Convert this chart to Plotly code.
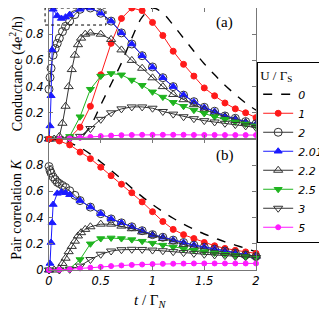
import plotly.graph_objects as go
from plotly.subplots import make_subplots

# ---------------- data ----------------
t10 = [0.0, 0.1, 0.2, 0.3, 0.4, 0.5, 0.6, 0.7, 0.8, 0.9, 1.0,
       1.1, 1.2, 1.3, 1.4, 1.5, 1.6, 1.7, 1.8, 1.9, 2.0]

# U = 0 (dashed)
g_u0 = [0, 0, 0, 0.01, 0.1, 0.26, 0.42, 0.58, 0.77, 0.93, 1.0,
        0.96, 0.87, 0.77, 0.67, 0.575, 0.49, 0.41, 0.34, 0.275, 0.22]
k_u0 = [1.0, 0.99, 0.97, 0.935, 0.885, 0.825, 0.76, 0.695, 0.625, 0.56, 0.5,
        0.445, 0.395, 0.35, 0.31, 0.275, 0.245, 0.215, 0.19, 0.165, 0.14]

# U = 1
g_u1 = [0, 0, 0.01, 0.09, 0.25, 0.49, 0.73, 0.92, 1.0, 0.98, 0.89,
        0.79, 0.67, 0.57, 0.48, 0.39, 0.33, 0.275, 0.23, 0.2, 0.163]
k_u1 = [1.0, 0.985, 0.955, 0.9, 0.85, 0.785, 0.72, 0.655, 0.59, 0.52, 0.445,
        0.37, 0.31, 0.27, 0.24, 0.21, 0.185, 0.165, 0.15, 0.138, 0.127]

# U = 2
t_u2 = [0, 0.01, 0.02, 0.04, 0.06, 0.08, 0.1, 0.13, 0.16, 0.2, 0.25,
        0.3, 0.4, 0.5, 0.6, 0.7, 0.8, 0.9, 1.0, 1.1, 1.2, 1.3, 1.4, 1.5,
        1.6, 1.7, 1.8, 1.9, 2.0]
g_u2 = [0.38, 0.47, 0.54, 0.64, 0.69, 0.73, 0.77, 0.82, 0.86, 0.9, 0.95,
        0.99, 1.0, 0.96, 0.9, 0.81, 0.725, 0.636, 0.55, 0.468, 0.4, 0.335,
        0.285, 0.242, 0.212, 0.176, 0.158, 0.133, 0.116]
k_u2 = [0.79, 0.76, 0.74, 0.71, 0.69, 0.67, 0.66, 0.645, 0.63, 0.605, 0.57,
        0.53, 0.48, 0.43, 0.39, 0.36, 0.33, 0.3, 0.27, 0.25, 0.228, 0.21,
        0.19, 0.175, 0.16, 0.145, 0.13, 0.115, 0.103]

# U = 2.01
t_u201 = [0, 0.01, 0.02, 0.03, 0.04, 0.08, 0.12, 0.16, 0.2,
          0.3, 0.4, 0.5, 0.6, 0.7, 0.8, 0.9, 1.0, 1.1, 1.2, 1.3, 1.4, 1.5,
          1.6, 1.7, 1.8, 1.9, 2.0]
g_u201 = [0, 0.1, 0.33, 0.68, 0.99, 0.94, 0.92, 0.93, 0.95,
          0.99, 1.0, 0.96, 0.9, 0.81, 0.725, 0.636, 0.548, 0.467, 0.4, 0.335,
          0.283, 0.24, 0.21, 0.175, 0.155, 0.13, 0.114]
k_u201 = [0, 0.05, 0.21, 0.36, 0.5, 0.585, 0.595, 0.59, 0.575,
          0.53, 0.48, 0.43, 0.39, 0.36, 0.33, 0.3, 0.27, 0.25, 0.228, 0.21,
          0.19, 0.175, 0.16, 0.145, 0.13, 0.115, 0.103]

# U = 2.2
t_u22 = [0, 0.05, 0.1, 0.13, 0.16, 0.19, 0.22, 0.25, 0.28, 0.31, 0.35,
         0.4, 0.5, 0.6, 0.7, 0.8, 0.9, 1.0, 1.1, 1.2, 1.3, 1.4, 1.5,
         1.6, 1.7, 1.8, 1.9, 2.0]
g_u22 = [0, 0, 0.02, 0.12, 0.25, 0.4, 0.53, 0.64, 0.72, 0.77, 0.8,
         0.81, 0.8, 0.76, 0.68, 0.6, 0.54, 0.467, 0.4, 0.34, 0.3, 0.262,
         0.225, 0.198, 0.17, 0.15, 0.125, 0.106]
k_u22 = [0, 0, 0.01, 0.05, 0.09, 0.14, 0.18, 0.22, 0.26, 0.285, 0.31,
         0.33, 0.35, 0.35, 0.335, 0.315, 0.29, 0.265, 0.24, 0.215, 0.195,
         0.175, 0.16, 0.145, 0.135, 0.125, 0.115, 0.106]

# U = 2.5
g_u25 = [0, 0, 0.02, 0.17, 0.38, 0.48, 0.5, 0.49, 0.45, 0.41, 0.36,
         0.32, 0.28, 0.25, 0.22, 0.195, 0.17, 0.15, 0.13, 0.115, 0.1]
k_u25 = [0, 0, 0.01, 0.08, 0.2, 0.24, 0.245, 0.24, 0.232, 0.22, 0.205,
         0.19, 0.175, 0.16, 0.15, 0.14, 0.13, 0.12, 0.11, 0.103, 0.096]

# U = 3
g_u3 = [0, 0, 0, 0.02, 0.08, 0.15, 0.2, 0.23, 0.245, 0.245, 0.235,
        0.21, 0.19, 0.17, 0.155, 0.14, 0.13, 0.12, 0.11, 0.1, 0.088]
k_u3 = [0, 0, 0.005, 0.03, 0.08, 0.12, 0.145, 0.155, 0.158, 0.157, 0.152,
        0.147, 0.14, 0.133, 0.127, 0.12, 0.115, 0.11, 0.105, 0.1, 0.095]

# U = 5
g_u5 = [0, 0.002, 0.005, 0.01, 0.016, 0.022, 0.026, 0.029, 0.031, 0.032, 0.032,
        0.032, 0.032, 0.032, 0.031, 0.031, 0.031, 0.03, 0.03, 0.03, 0.03]
k_u5 = [0, 0.002, 0.006, 0.012, 0.018, 0.024, 0.03, 0.035, 0.039, 0.042, 0.045,
        0.047, 0.048, 0.049, 0.05, 0.05, 0.05, 0.05, 0.05, 0.05, 0.05]

labels = ["0", "1", "2", "2.01", "2.2", "2.5", "3", "5"]
x_ticks = [0, 0.5, 1, 1.5, 2]
x_ticktext = ["0", "0.5", "1", "1.5", "2"]
g_ticks = [0, 0.2, 0.4, 0.6, 0.8, 1]
g_ticktext = ["0", "0.2", "0.4", "0.6", "0.8", "1"]
k_ticks = [0, 0.2, 0.4, 0.6, 0.8]
k_ticktext = ["0", "0.2", "0.4", "0.6", "0.8"]

# ---------------- styles ----------------
series = [
    (labels[0], t10, g_u0, k_u0, "black", None, 0, None),
    (labels[1], t10, g_u1, k_u1, "#ff1a1a", "circle", 6, "#ff1a1a"),
    (labels[2], t_u2, g_u2, k_u2, "#333333", "circle-open", 8, "#333333"),
    (labels[3], t_u201, g_u201, k_u201, "#1a1aff", "triangle-up", 7, "#1a1aff"),
    (labels[4], t_u22, g_u22, k_u22, "#333333", "triangle-up-open", 8, "#333333"),
    (labels[5], t10, g_u25, k_u25, "#1fb41f", "triangle-down", 7, "#1fb41f"),
    (labels[6], t10, g_u3, k_u3, "#333333", "triangle-down-open", 8, "#333333"),
    (labels[7], t10, g_u5, k_u5, "#ff1aff", "circle", 5, "#ff1aff"),
]

fig = make_subplots(rows=2, cols=1, shared_xaxes=True, vertical_spacing=0)

for (lab, tt, gg, kk, lc, sym, ms, mc) in series:
    for row, yy in ((1, gg), (2, kk)):
        if sym is None:
            tr = go.Scatter(x=tt, y=yy, mode="lines", name=lab,
                            line=dict(color=lc, width=1.4, dash="dash", shape="spline"),
                            showlegend=(row == 1), legendgroup=lab, cliponaxis=False)
        else:
            tr = go.Scatter(x=tt, y=yy, mode="lines+markers", name=lab,
                            line=dict(color=lc, width=1),
                            marker=dict(symbol=sym, size=ms, color=mc,
                                        line=dict(color=mc, width=1)),
                            showlegend=(row == 1), legendgroup=lab, cliponaxis=False)
        fig.add_trace(tr, row=row, col=1)

frame = "#777777"
tickfont = dict(family="DejaVu Sans", size=11.5, color="black", style="italic")
common_x = dict(range=[0, 2], tickvals=x_ticks, ticktext=x_ticktext, ticks="inside",
                ticklen=4, tickcolor=frame, showline=True, linecolor=frame, linewidth=1,
                mirror="ticks", showgrid=False, zeroline=False, tickfont=tickfont,
                automargin=False)
fig.update_xaxes(**common_x)
fig.update_xaxes(showticklabels=False, row=1, col=1)
fig.update_xaxes(showticklabels=True, row=2, col=1, ticklabelstandoff=0)

common_y = dict(range=[0, 1], ticks="inside", ticklen=4, tickcolor=frame,
                showline=True, linecolor=frame, linewidth=1, mirror="ticks",
                showgrid=False, zeroline=False, tickfont=tickfont, ticklabelstandoff=2,
                automargin=False)
fig.update_yaxes(**common_y)
fig.update_yaxes(tickvals=g_ticks, ticktext=g_ticktext, row=1, col=1)
fig.update_yaxes(tickvals=k_ticks, ticktext=k_ticktext, row=2, col=1)
fig.update_yaxes(domain=[0.5, 1.0], row=1, col=1)
fig.update_yaxes(domain=[0.0, 0.5], row=2, col=1)

serif = "Liberation Serif"
annotations = [
    dict(text="Conductance (4e<sup>2</sup>/h)", x=-0.157, y=0.749, textangle=-90,
         font=dict(family=serif, size=14, color="black")),
    dict(text="Pair correlation <i>K</i>", x=-0.157, y=0.228, textangle=-90,
         font=dict(family=serif, size=14, color="black")),
    dict(text="<i>t</i> / Γ<sub><i>N</i></sub>", x=0.488, y=-0.118,
         font=dict(family=serif, size=15, color="black")),
    dict(text="(a)", x=0.85, y=0.943, font=dict(family=serif, size=15, color="black")),
    dict(text="(b)", x=0.85, y=0.437, font=dict(family=serif, size=15, color="black")),
]
for a in annotations:
    a.update(xref="paper", yref="paper", showarrow=False, xanchor="center", yanchor="middle")

fig.update_layout(
    width=327, height=315,
    margin=dict(l=41, r=79, t=0, b=53, autoexpand=False),
    paper_bgcolor="white", plot_bgcolor="white",
    annotations=annotations,
    shapes=[dict(type="rect", xref="paper", yref="paper", x0=-0.019, x1=0.275,
                 y0=0.935, y1=1.0, line=dict(color="black", width=1, dash="dot"))],
    legend=dict(xref="container", yref="container", x=0.762, y=0.829,
                xanchor="left", yanchor="top", maxheight=1,
                bgcolor="white", bordercolor="black", borderwidth=1,
                font=dict(family="DejaVu Sans", size=11, color="black", style="italic"),
                title=dict(text="U / Γ<sub>S</sub>", side="top",
                           font=dict(family=serif, size=13, color="black", style="normal")),
                tracegroupgap=0, itemwidth=30),
)

fig.write_html("out.html")
